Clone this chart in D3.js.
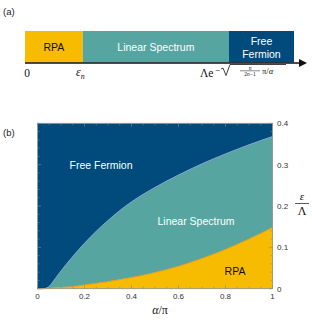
<!DOCTYPE html>
<html><head><meta charset="utf-8">
<script src="https://cdn.jsdelivr.net/npm/d3@7"></script>
<style>body{margin:0;background:#fff}svg{display:block}</style>
</head><body>
<script>
// ---- data ----
const alphaGrid = [0, 0.025, 0.04, 0.05, 0.075, 0.1, 0.125, 0.15, 0.2, 0.25, 0.3, 0.35, 0.4, 0.5, 0.6, 0.7, 0.8, 0.9, 1.0];
const upperBoundary = [0, 0, 0.002, 0.006, 0.024, 0.043, 0.061, 0.078, 0.11, 0.139, 0.165, 0.189, 0.21, 0.245, 0.275, 0.302, 0.326, 0.348, 0.368];
const lowerBoundary = [0, 0.0004, 0.0007, 0.001, 0.002, 0.003, 0.004, 0.005, 0.009, 0.013, 0.017, 0.022, 0.027, 0.039, 0.054, 0.073, 0.095, 0.12, 0.148];
const xTicks = [0, 0.2, 0.4, 0.6, 0.8, 1];
const xTickLabels = ["0", "0.2", "0.4", "0.6", "0.8", "1"];
const yTicks = [0, 0.1, 0.2, 0.3, 0.4];
const yTickLabels = ["0", "0.1", "0.2", "0.3", "0.4"];
const barSegments = ["RPA", "Linear Spectrum", "Free Fermion"];
const barEdges = [0, 0.215, 0.758, 1];

const C = {blue: "#014b7c", teal: "#57a5a1", orange: "#f7bb00"};
const segColors = [C.orange, C.teal, C.blue];
const segText = ["#111", "#fff", "#fff"];

const svg = d3.select("body").append("svg").attr("width", 312).attr("height", 322);
const sans = "Liberation Sans, Arial, sans-serif";
const serif = "Liberation Serif, Times New Roman, serif";

// ---- panel (a) ----
svg.append("text").attr("x", 3).attr("y", 15).attr("font-family", sans).attr("font-size", 9.5).attr("fill", "#222").text("(a)");
const bx = d3.scaleLinear().domain([0, 1]).range([25, 294]);
const barTop = 31, barBot = 62.5;
svg.selectAll("rect.seg").data(barSegments).join("rect")
  .attr("x", (d, i) => bx(barEdges[i])).attr("width", (d, i) => bx(barEdges[i + 1]) - bx(barEdges[i]))
  .attr("y", barTop).attr("height", barBot - barTop).attr("fill", (d, i) => segColors[i]);
barSegments.forEach((s, i) => {
  const cx = (bx(barEdges[i]) + bx(barEdges[i + 1])) / 2;
  const words = s === "Free Fermion" ? ["Free", "Fermion"] : [s];
  const t = svg.append("text").attr("text-anchor", "middle").attr("font-family", sans)
    .attr("font-size", 10.5).attr("fill", segText[i]);
  if (words.length === 1) t.append("tspan").attr("x", cx).attr("y", 51).text(words[0]);
  else words.forEach((w, k) => t.append("tspan").attr("x", cx).attr("y", 45 + k * 13).text(w));
});
// axis arrow
svg.append("line").attr("x1", 25).attr("x2", 300).attr("y1", 63).attr("y2", 63).attr("stroke", "#111").attr("stroke-width", 1.6);
svg.append("path").attr("d", "M299,59 L307,63 L299,67 Z").attr("fill", "#111");
// labels below
svg.append("text").attr("x", 27).attr("y", 77).attr("text-anchor", "middle").attr("font-family", serif).attr("font-size", 11.5).attr("fill", "#111").text("0");
const en = svg.append("text").attr("x", 76).attr("y", 76).attr("font-family", serif).attr("font-size", 12).attr("fill", "#111");
en.append("tspan").attr("font-style", "italic").text("ε");
en.append("tspan").attr("font-style", "italic").attr("font-size", 8).attr("dy", 3).text("n");
// cutoff formula
const f = svg.append("g").attr("fill", "#111").attr("font-family", serif);
f.append("text").attr("x", 200).attr("y", 77).attr("font-size", 11.5).text("Λe");
f.append("text").attr("x", 215).attr("y", 73).attr("font-size", 9).text("−");
f.append("path").attr("d", "M221,69 L223,68 L226,75.5 L230,64.5 L286,64.5").attr("fill", "none").attr("stroke", "#111").attr("stroke-width", 0.8);
f.append("text").attr("x", 250).attr("y", 69.5).attr("text-anchor", "middle").attr("font-size", 5.5).attr("font-style", "italic").text("n");
f.append("line").attr("x1", 240).attr("x2", 260).attr("y1", 70.8).attr("y2", 70.8).attr("stroke", "#111").attr("stroke-width", 0.5);
f.append("text").attr("x", 250).attr("y", 76).attr("text-anchor", "middle").attr("font-size", 5.5).html('2<tspan font-style="italic">n</tspan>−1');
f.append("text").attr("x", 262).attr("y", 73.5).attr("font-size", 8.5).html('π/<tspan font-style="italic">α</tspan>');

// ---- panel (b) ----
svg.append("text").attr("x", 3).attr("y", 136).attr("font-family", sans).attr("font-size", 9.5).attr("fill", "#222").text("(b)");
const x = d3.scaleLinear().domain([0, 1]).range([37.5, 272.5]);
const y = d3.scaleLinear().domain([0, 0.4]).range([288.7, 123.3]);
const pts = alphaGrid.map((a, i) => ({a, u: upperBoundary[i], l: lowerBoundary[i]}));

svg.append("rect").attr("x", x(0)).attr("y", y(0.4)).attr("width", x(1) - x(0)).attr("height", y(0) - y(0.4)).attr("fill", C.blue);
const curve = d3.curveMonotoneX;
svg.append("path").datum(pts).attr("fill", C.teal)
  .attr("d", d3.area().x(d => x(d.a)).y0(y(0)).y1(d => y(d.u)).curve(curve));
svg.append("path").datum(pts).attr("fill", C.orange)
  .attr("d", d3.area().x(d => x(d.a)).y0(y(0)).y1(d => y(d.l)).curve(curve));
svg.append("path").datum(pts).attr("fill", "none").attr("stroke", "#8aa2d4").attr("stroke-width", 1)
  .attr("d", d3.line().x(d => x(d.a)).y(d => y(d.u)).curve(curve));
svg.append("path").datum(pts).attr("fill", "none").attr("stroke", "#eea020").attr("stroke-width", 1)
  .attr("d", d3.line().x(d => x(d.a)).y(d => y(d.l)).curve(curve));

// frame
svg.append("rect").attr("x", x(0)).attr("y", y(0.4)).attr("width", x(1) - x(0)).attr("height", y(0) - y(0.4))
  .attr("fill", "none").attr("stroke", "#9a9a9a").attr("stroke-width", 0.8);
// ticks
const tg = svg.append("g").attr("stroke", "#8a8a8a").attr("stroke-width", 0.6);
d3.range(0, 1.0001, 0.05).forEach(v => {
  const major = Math.abs(v * 5 - Math.round(v * 5)) < 1e-6;
  const L = major ? 3.5 : 2;
  tg.append("line").attr("x1", x(v)).attr("x2", x(v)).attr("y1", y(0)).attr("y2", y(0) - L);
  tg.append("line").attr("x1", x(v)).attr("x2", x(v)).attr("y1", y(0.4)).attr("y2", y(0.4) + L);
});
d3.range(0, 0.4001, 0.02).forEach(v => {
  const major = Math.abs(v * 10 - Math.round(v * 10)) < 1e-6;
  const L = major ? 3.5 : 2;
  tg.append("line").attr("y1", y(v)).attr("y2", y(v)).attr("x1", x(0)).attr("x2", x(0) + L);
  tg.append("line").attr("y1", y(v)).attr("y2", y(v)).attr("x1", x(1)).attr("x2", x(1) - L);
});
// tick labels
svg.selectAll("text.xt").data(xTicks).join("text").attr("class", "xt")
  .attr("x", d => x(d)).attr("y", 299).attr("text-anchor", "middle")
  .attr("font-family", sans).attr("font-size", 8).attr("fill", "#333").text((d, i) => xTickLabels[i]);
svg.selectAll("text.yt").data(yTicks).join("text").attr("class", "yt")
  .attr("x", 277).attr("y", d => y(d) + 3).attr("text-anchor", "start")
  .attr("font-family", sans).attr("font-size", 8).attr("fill", "#333").text((d, i) => yTickLabels[i]);
// axis labels
const xl = svg.append("text").attr("x", 160).attr("y", 314).attr("text-anchor", "middle").attr("font-family", serif).attr("font-size", 12).attr("fill", "#111");
xl.append("tspan").attr("font-style", "italic").text("α");
xl.append("tspan").text("/π");
svg.append("text").attr("x", 302).attr("y", 200).attr("text-anchor", "middle").attr("font-family", serif).attr("font-style", "italic").attr("font-size", 11).attr("fill", "#111").text("ε");
svg.append("line").attr("x1", 295).attr("x2", 309).attr("y1", 203.5).attr("y2", 203.5).attr("stroke", "#111").attr("stroke-width", 0.7);
svg.append("text").attr("x", 302).attr("y", 215).attr("text-anchor", "middle").attr("font-family", serif).attr("font-size", 12).attr("fill", "#111").text("Λ");
// region labels
svg.append("text").attr("x", 101).attr("y", 169).attr("text-anchor", "middle").attr("font-family", sans).attr("font-size", 10.5).attr("fill", "#fff").text("Free Fermion");
svg.append("text").attr("x", 196).attr("y", 225).attr("text-anchor", "middle").attr("font-family", sans).attr("font-size", 10.5).attr("fill", "#fff").text("Linear Spectrum");
svg.append("text").attr("x", 235).attr("y", 275).attr("text-anchor", "middle").attr("font-family", sans).attr("font-size", 10.5).attr("fill", "#111").text("RPA");
</script>
</body></html>
